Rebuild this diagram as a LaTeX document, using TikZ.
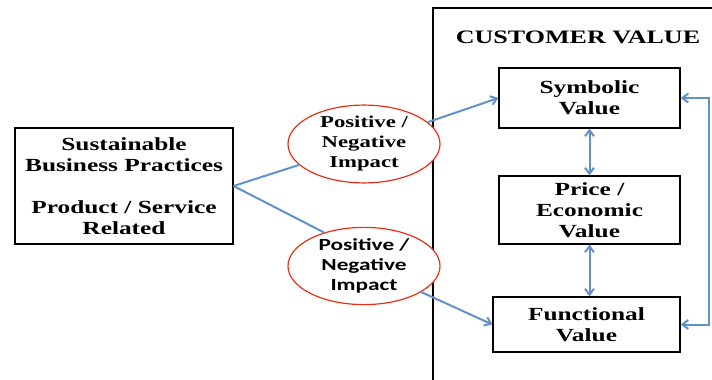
\documentclass[tikz,border=0pt]{standalone}
\usepackage{fontspec}
\setmainfont{Liberation Serif}[FakeStretch=1.37]
\newfontfamily\impactsans{Carlito}[FakeStretch=1.37]
\usetikzlibrary{arrows.meta,shapes.geometric}
\definecolor{linkblue}{RGB}{98,145,202}
\definecolor{impactred}{RGB}{232,48,22}
\begin{document}
\begin{tikzpicture}[x=1pt,y=-1pt]
\tikzstyle{valuebox}=[draw,line width=1.2pt,fill=white,align=center,inner sep=0pt,font=\bfseries\fontsize{18.5}{21}\selectfont]
\tikzstyle{impact}=[ellipse,draw=impactred,line width=1.2pt,fill=white,align=center,inner sep=0pt,minimum width=152pt,minimum height=64pt,font=\bfseries\fontsize{16.6}{20}\selectfont]
\tikzstyle{link}=[linkblue,line width=2pt]
\tikzstyle{tip}=[-{Straight Barb[length=6pt,width=9pt]}]
\tikzstyle{tips}=[{Straight Barb[length=6pt,width=9pt]}-{Straight Barb[length=6pt,width=9pt]}]
\useasboundingbox (0,0) rectangle (712,380);
% customer value frame
\draw [line width=1.2pt] (433,380) -- (433,8) -- (712,8);
\node (title) at (578,37) {\bfseries\fontsize{19}{22}\selectfont CUSTOMER VALUE};
% boxes
\node [valuebox,minimum width=218pt,minimum height=116pt] (practices) at (124,186)
  {Sustainable\\Business Practices\\[21pt]Product / Service\\Related};
\node [valuebox,minimum width=181pt,minimum height=60pt] (symbolic) at (589.5,98) {Symbolic\\Value};
\node [valuebox,minimum width=181pt,minimum height=68pt] (price) at (589.5,210) {Price /\\Economic\\Value};
\node [valuebox,minimum width=187pt,minimum height=55pt] (functional) at (586.5,324.5) {Functional\\Value};
% impacts
\node [impact] (impact1) at (364,144) {Positive /\\Negative\\Impact};
\node [impact,font=\impactsans\bfseries\fontsize{17}{20}\selectfont] (impact2) at (364,266) {Positive /\\Negative\\Impact};
% links
\draw [link] (practices.east) -- (impact1);
\draw [link] (practices.east) -- (impact2.140);
\draw [link,tip] (impact1) -- (symbolic.west);
\draw [link,tip] (impact2) -- (functional.west);
\draw [link,tips] (symbolic) -- (price);
\draw [link,tips] (price.south) -- (price.south |- functional.north);
\draw [link,tips] (symbolic.east) -- ++(28,0) |- (functional.east);
\end{tikzpicture}
\end{document}
